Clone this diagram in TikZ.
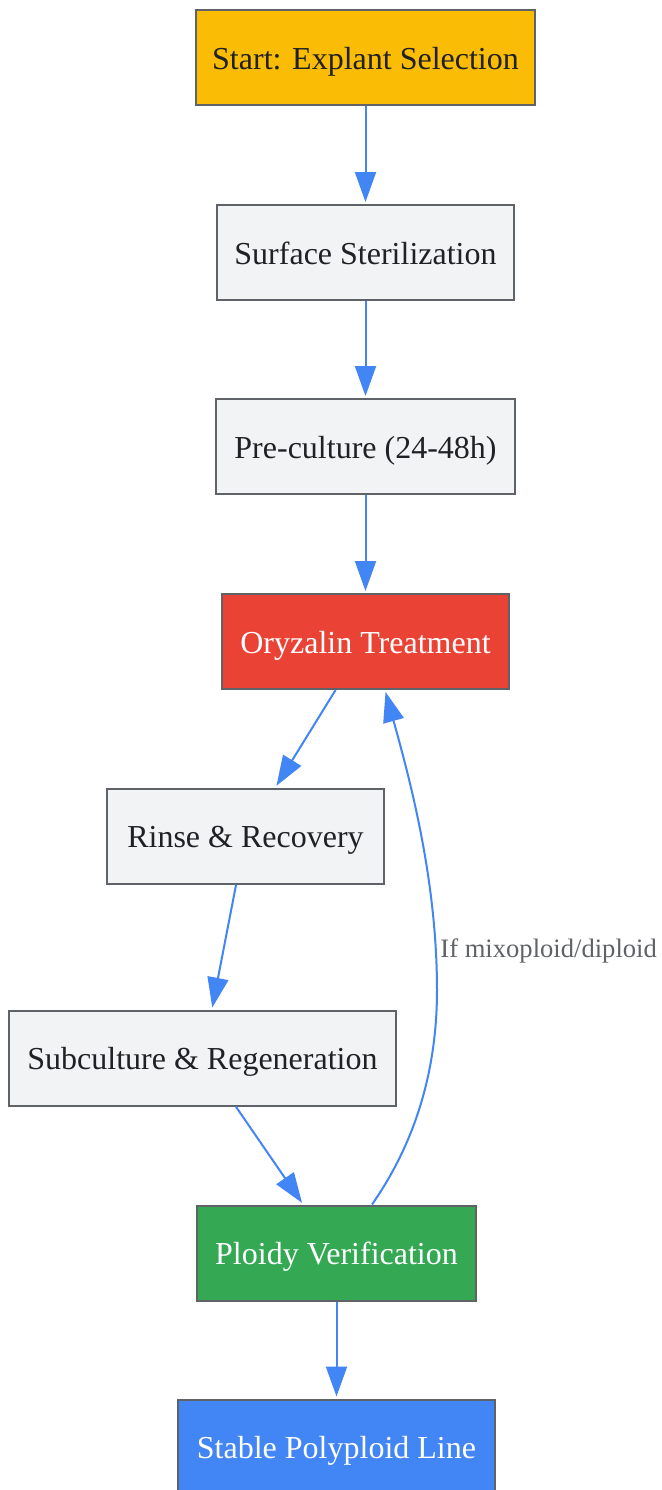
\documentclass[tikz,border=0pt]{standalone}
\usepackage{fontspec}
\setmainfont{Liberation Serif}
\usetikzlibrary{arrows.meta}
\definecolor{cyellow}{HTML}{FBBC05}
\definecolor{cgray}{HTML}{F1F3F4}
\definecolor{cred}{HTML}{EA4335}
\definecolor{cgreen}{HTML}{34A853}
\definecolor{cblue}{HTML}{4285F4}
\definecolor{cborder}{HTML}{5F6368}
\definecolor{ctext}{HTML}{202124}
\definecolor{clabel}{HTML}{5F6368}
\tikzset{
  box/.style={draw=cborder, line width=1pt, rectangle, minimum height=47.5pt, inner sep=0pt,
    text height=13.5pt, text depth=2pt,
    font=\fontsize{16pt}{19pt}\selectfont, text=ctext},
  lightbox/.style={box, fill=cgray},
  darkbox/.style={box, text=white},
  conn/.style={draw=cblue, line width=1pt, -{Triangle[length=15pt,width=10.5pt]}, shorten >=1pt},
  lbl/.style={font=\fontsize{13.3pt}{16pt}\selectfont, text=clabel, inner sep=0pt, anchor=west}
}
\begin{document}
\begin{tikzpicture}[x=0.5pt,y=-0.5pt]
\useasboundingbox[fill=white] (0,0) rectangle (662,1490);
\node[box, fill=cyellow, minimum width=169.5pt] (n1) at (365.5,57.5) {Start: Explant Selection};
\node[lightbox, minimum width=148.5pt] (n2) at (365.5,252.5) {Surface Sterilization};
\node[lightbox, minimum width=149.5pt] (n3) at (365.5,446.5) {Pre-culture (24-48h)};
\node[darkbox, fill=cred, minimum width=143.5pt] (n4) at (365.5,641.5) {Oryzalin Treatment};
\node[lightbox, minimum width=138.5pt] (n5) at (245.5,836) {Rinse \& Recovery};
\node[lightbox, minimum width=193.5pt] (n6) at (202.5,1058) {Subculture \& Regeneration};
\node[darkbox, fill=cgreen, minimum width=139.5pt] (n7) at (336.5,1253) {Ploidy Verification};
\node[darkbox, fill=cblue, minimum width=158.5pt] (n8) at (336.5,1447) {Stable Polyploid Line};
\draw[conn] (n1) -- (n2);
\draw[conn] (n2) -- (n3);
\draw[conn] (n3) -- (n4);
\draw[conn] (n4) -- (n5);
\draw[conn] (n5) -- (n6);
\draw[conn] (n6) -- (n7);
\draw[conn] (n7) -- (n8);
\coordinate (c1) at (437,990);
\draw[conn] (n7.north -| 372,0) .. controls (410,1150) and (437,1080) .. (c1)
  .. controls (437,880) and (410,780) .. (n4.south -| 385,0);
\node[lbl] (l1) at (440,951) {If mixoploid/diploid};
\end{tikzpicture}
\end{document}
